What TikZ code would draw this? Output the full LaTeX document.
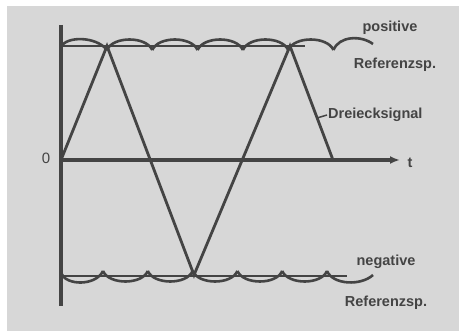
\documentclass[tikz,border=0pt]{standalone}
\usepackage{fontspec}
\setmainfont{Liberation Sans}
\usetikzlibrary{arrows.meta,positioning}
\definecolor{paper}{HTML}{D7D7D7}
\definecolor{ink}{HTML}{444444}
\tikzset{
  % axes and signal share the same dark ink
  axis/.style  = {ink, line width=3.2pt},
  sig/.style   = {ink, line width=2.8pt},
  ref/.style   = {ink, line width=2pt},
  wave/.style  = {ink, line width=2.6pt},
  lbl/.style   = {text=ink, font=\fontsize{14.5}{16}\selectfont\bfseries, inner sep=1pt},
  lead/.style  = {ink, line width=1.5pt},
}
\begin{document}
\begin{tikzpicture}[x=1pt,y=-1pt]
\useasboundingbox (0,0) rectangle (459,331);
\fill[paper] (7,6) rectangle (459,331);

% axes
\coordinate (o) at (61,160);
\coordinate (ytop) at (61,25);
\coordinate (ybot) at (61,306);
\coordinate (tend) at (400,160);
\draw[axis] (ytop) -- (ybot);
\draw[axis, -{Latex[length=10pt,width=8pt]}] (o) -- (tend);
\node[lbl, font=\fontsize{15}{16}\selectfont] (zero) at (46,158) {0};
\node[lbl] (tlab) at (410,163) {t};

% reference levels
\coordinate (p0) at (61,46);  \coordinate (p1) at (305,46);
\coordinate (n0) at (61,276); \coordinate (n1) at (347,276);
\draw[ref] (p0) -- (p1);
\draw[ref] (n0) -- (n1);

% positive ripple
\draw[wave] (61,47) .. controls (66,36) and (96,36) .. (107,50);
\foreach \x in {107,152.3,197.6,242.9,288.2}
  \draw[wave] (\x,50) .. controls (\x+6,36) and (\x+39,36) .. (\x+45.3,50);
\draw[wave] (333.5,50) .. controls (339,36) and (361,35) .. (373,44);

% negative ripple
\draw[wave] (61,273) .. controls (66,286) and (96,286) .. (103,271);
\foreach \x in {103,147.8,192.6,237.4,282.2}
  \draw[wave] (\x,271) .. controls (\x+6,285) and (\x+39,285) .. (\x+44.8,271);
\draw[wave] (327,271) .. controls (333,285) and (361,286) .. (373,275);

% triangle signal
\coordinate (a) at (107,46);
\coordinate (b) at (194,275);
\coordinate (c) at (290,46);
\coordinate (d) at (333,160);
\draw[sig, line join=miter] (o) -- (a) -- (b) -- (c) -- (d);

% labels
\node[lbl] (pos) at (390,28) {positive};
\node[lbl] (posref) at (395,65) {Referenzsp.};
\node[lbl, anchor=west] (dreieck) at (327,115) {Dreiecksignal};
\coordinate (tri) at (317,118);
\draw[lead] (tri) -- (dreieck.west);
\node[lbl] (neg) at (386,262) {negative};
\node[lbl] (negref) at (386,303) {Referenzsp.};
\end{tikzpicture}
\end{document}
